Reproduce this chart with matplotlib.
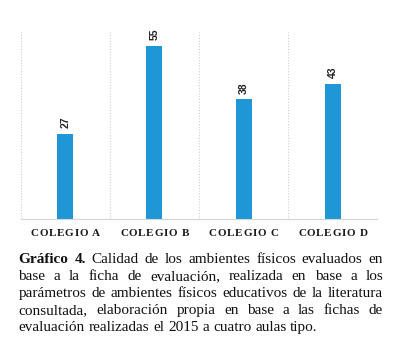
import matplotlib
matplotlib.use("Agg")
import matplotlib.pyplot as plt
from matplotlib.font_manager import FontProperties

# data
colegios = ["COLEGIO A", "COLEGIO B", "COLEGIO C", "COLEGIO D"]
valores = [27, 55, 38, 43]

caption_bold = "Gráfico 4."
caption_lines = [
    "Calidad de los ambientes físicos evaluados en",
    "base a la ficha de evaluación, realizada en base a los",
    "parámetros de ambientes físicos educativos de la literatura",
    "consultada, elaboración propia en base a las fichas de",
    "evaluación realizadas el 2015 a cuatro aulas tipo.",
]

W, H = 399, 347
fig = plt.figure(figsize=(W / 100, H / 100), dpi=100)
ax = fig.add_axes([20.7 / W, 1 - 219 / H, 356.6 / W, 189 / H])

x = range(len(colegios))
bars = ax.bar(x, valores, width=0.18, color="#1f96d5", zorder=2)
ax.set_xlim(-0.5, len(colegios) - 0.5)
ax.set_ylim(0, 60)

# dotted separators between categories
for b in [-0.5, 0.5, 1.5, 2.5, 3.5]:
    ax.axvline(b, color="#cfcfcf", lw=0.8, ls=(0, (1, 1.5)), zorder=1)
for s in ["top", "left", "right"]:
    ax.spines[s].set_visible(False)
ax.spines["bottom"].set_color("#d4d4d4")
ax.spines["bottom"].set_linewidth(0.8)
ax.set_xticks([])
ax.set_yticks([])

# value labels, rotated
for xi, v in zip(x, valores):
    ax.annotate(str(v), (xi, v), xytext=(0, 4), textcoords="offset points",
                rotation=90, ha="center", va="bottom", fontsize=7.5,
                fontweight="bold", family="Liberation Sans", color="#222222")

renderer = fig.canvas.get_renderer()


def text_w(s, prop):
    w, h, d = renderer.get_text_width_height_descent(s, prop, ismath=False)
    return w


# letter-spaced category labels
lab_prop = FontProperties(family="Liberation Serif", weight="bold", size=8)
track = 0.7
for xi, name in zip(x, colegios):
    widths = [text_w(c, lab_prop) for c in name]
    total = sum(widths) + track * (len(name) - 1)
    cx = ax.transData.transform((xi, 0))[0]
    px = cx - total / 2
    for c, w in zip(name, widths):
        fig.text(px / W, 1 - 235.7 / H, c, fontproperties=lab_prop,
                 ha="left", va="baseline", color="#1a1a1a")
        px += w + track

# justified caption
cap_prop = FontProperties(family="Liberation Serif", size=11)
cap_bold = FontProperties(family="Liberation Serif", size=11, weight="bold")
left, right = 18.5, 383.0
y0, dy = 262.7, 17.0
for i, line in enumerate(caption_lines):
    words = [(w, cap_prop) for w in line.split(" ")]
    if i == 0:
        words = [(w, cap_bold) for w in caption_bold.split(" ")] + words
    widths = [text_w(w, p) for w, p in words]
    if i < len(caption_lines) - 1:
        gap = (right - left - sum(widths)) / (len(words) - 1)
    else:
        gap = text_w(" ", cap_prop)
    px = left
    y = 1 - (y0 + i * dy) / H
    for (w, p), ww in zip(words, widths):
        fig.text(px / W, y, w, fontproperties=p, ha="left", va="baseline",
                 color="#111111")
        px += ww + gap

fig.savefig("out.png", dpi=100)
